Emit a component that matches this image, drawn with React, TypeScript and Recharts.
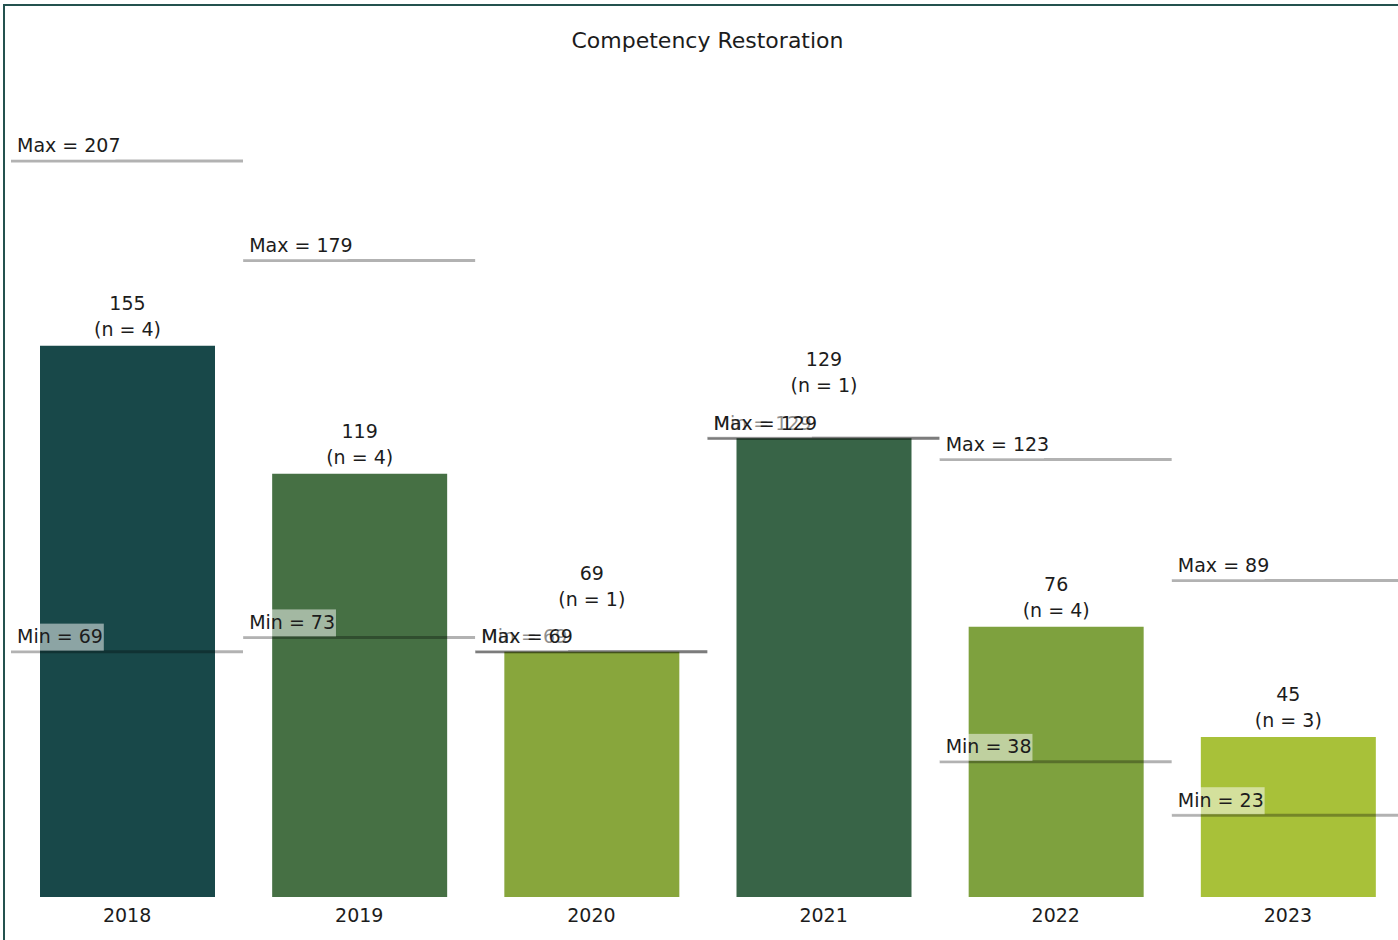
import { Bar, BarChart, Cell, LabelList, XAxis, YAxis } from "recharts";

const years = ["2018", "2019", "2020", "2021", "2022", "2023"];
const averages = [155, 119, 69, 129, 76, 45];
const counts = [4, 4, 1, 1, 4, 3];
const maxima = [207, 179, 69, 129, 123, 89];
const minima = [69, 73, 69, 129, 38, 23];
const barColors = ["#184849", "#467044", "#88a63c", "#386447", "#7ea13e", "#a8c139"];

const data = years.map((year, i) => ({
  year,
  avg: averages[i],
  n: counts[i],
  max: maxima[i],
  min: minima[i],
}));

const FONT = "'DejaVu Sans', sans-serif";
const TEXT = "#1c1c1c";

function rangeLine(prefix: string) {
  return (props: any) => {
    const { x, y, width, value } = props;
    const v = Array.isArray(value) ? value[1] : value;
    const label = `${prefix} = ${v}`;
    const boxW = label.length * 11.6;
    return (
      <g>
        <line x1={x} x2={x + width} y1={y} y2={y} stroke="#000" strokeOpacity={0.3} strokeWidth={3} />
        <rect x={x} y={y - 28} width={boxW} height={27} fill="#fff" fillOpacity={0.5} />
        <text x={x + 6} y={y - 8.5} fontFamily={FONT} fontSize={19} fill={TEXT}>
          {label}
        </text>
      </g>
    );
  };
}

function ValueLabel(props: any) {
  const { x, y, width, value, index } = props;
  const cx = x + width / 2;
  // lift the label above the Max label when the max sits on the bar top
  const lift = maxima[index] - averages[index] < 10 ? 36 : 0;
  return (
    <g fontFamily={FONT} fontSize={19} fill={TEXT} textAnchor="middle">
      <text x={cx} y={y - 36 - lift}>{value}</text>
      <text x={cx} y={y - 10 - lift}>{`(n = ${counts[index]})`}</text>
    </g>
  );
}

export default function App() {
  return (
    <div>
      <style>{`body{margin:0;overflow:hidden;background:#fff}`}</style>
      <div
        style={{
          position: "absolute",
          left: 3,
          top: 4,
          width: 1420,
          height: 960,
          borderLeft: "2px solid #24524f",
          borderTop: "2px solid #24524f",
        }}
      >
        <div
          style={{
            position: "absolute",
            left: 0,
            top: 22,
            width: 1405,
            textAlign: "center",
            fontFamily: FONT,
            fontSize: 22,
            color: TEXT,
          }}
        >
          Competency Restoration
        </div>
        <BarChart
          width={1407}
          height={934}
          data={data}
          margin={{ top: 2, right: 8, bottom: 0, left: 6 }}
          barCategoryGap={0}
        >
          <XAxis xAxisId="band" dataKey="year" hide height={0} />
          <XAxis xAxisId="band2" dataKey="year" hide height={0} />
          <XAxis
            xAxisId="main"
            dataKey="year"
            height={43}
            axisLine={false}
            tickLine={false}
            tickSize={0}
            tickMargin={12}
            tick={{ fontSize: 19, fill: TEXT, fontFamily: FONT }}
          />
          <YAxis domain={[0, 250]} hide />
          <Bar dataKey="avg" xAxisId="main" barSize={175} isAnimationActive={false}>
            {data.map((d, i) => (
              <Cell key={d.year} fill={barColors[i]} />
            ))}
            <LabelList dataKey="avg" content={ValueLabel} />
          </Bar>
          <Bar dataKey="min" xAxisId="band2" isAnimationActive={false} shape={rangeLine("Min")} />
          <Bar dataKey="max" xAxisId="band" isAnimationActive={false} shape={rangeLine("Max")} />
        </BarChart>
      </div>
    </div>
  );
}
